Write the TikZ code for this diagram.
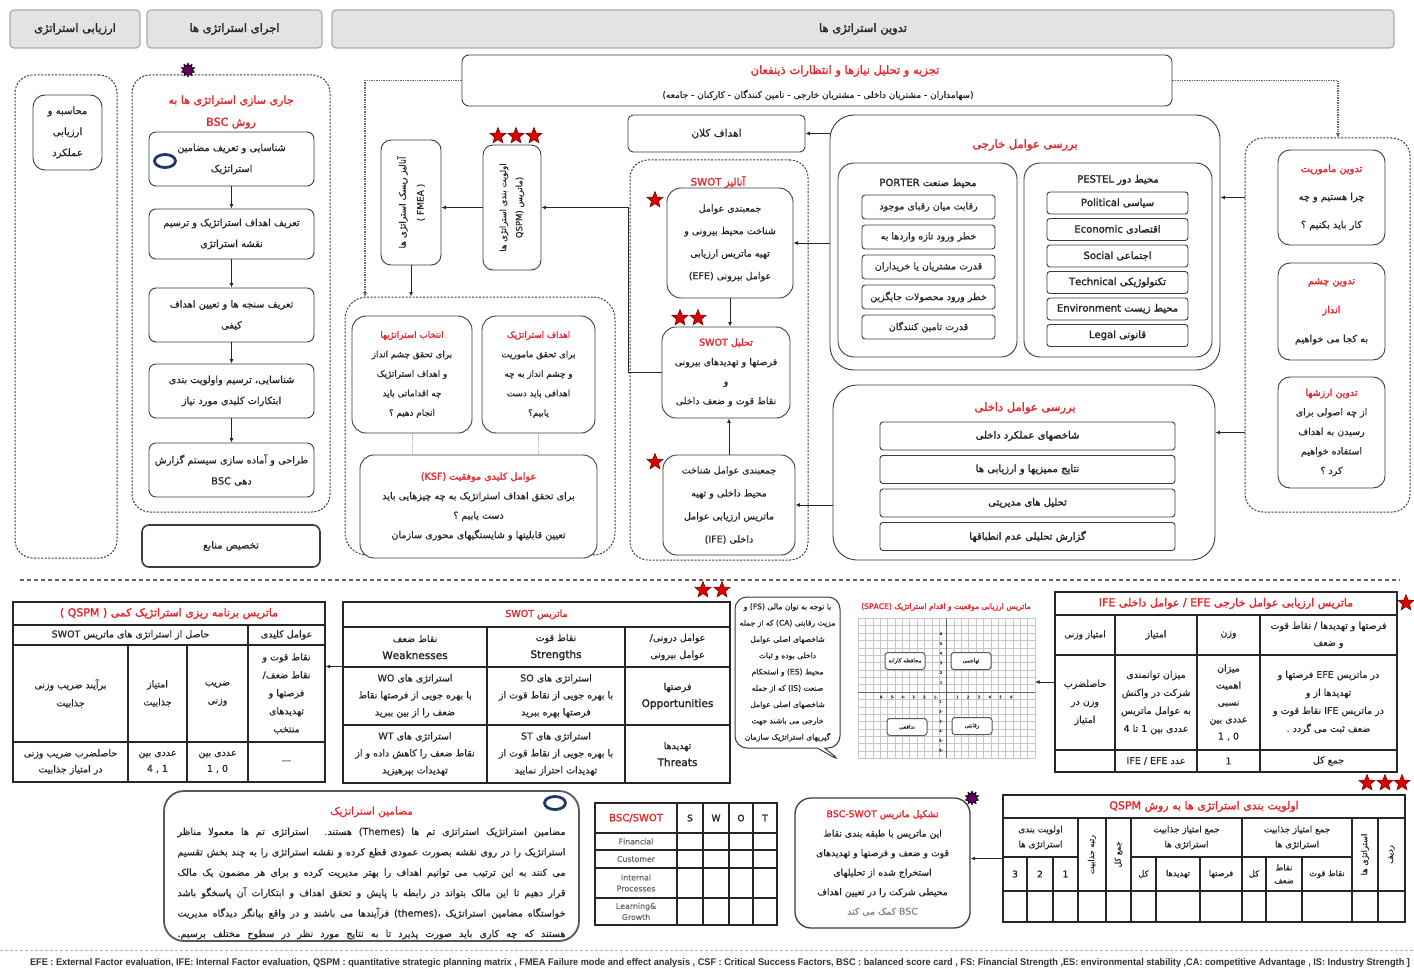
\documentclass[tikz,border=0pt]{standalone}
\usepackage{fontspec}
\usepackage{graphicx}
\usepackage{tikz}
\usetikzlibrary{arrows.meta,shapes.geometric,shapes.callouts}
\TeXXeTstate=1
\newfontfamily\fafont[Script=Arabic,FakeBold=0.5]{DejaVu Sans}
\newfontfamily\fabold[Script=Arabic,FakeBold=1.8]{DejaVu Sans}
\newfontfamily\footfont{Liberation Sans}
\definecolor{tred}{RGB}{232,38,44}
\definecolor{bline}{RGB}{60,60,60}
\definecolor{navy}{RGB}{31,56,100}
\newcommand{\fa}[1]{\beginR #1\endR}
\newcommand{\fb}[1]{{\fabold\beginR #1\endR}}
\newcommand{\fr}[1]{{\color{tred}\fabold\beginR #1\endR}}
\newcommand{\ltr}[1]{\beginL #1\endL}
\newcommand{\lw}[1]{{\fabold\fontsize{10.5}{17}\selectfont #1}}
\newcommand{\jl}[1]{\hbox to 388pt{\beginR #1\endR}}

\tikzset{
  every node/.style={font=\fafont\fontsize{10}{14}\selectfont, text=black!85, align=center, inner sep=1pt},
  fs/.style n args={2}{font=\fafont\fontsize{#1}{#2}\selectfont},
  hdbox/.style={draw=gray!65, fill=gray!22, line width=1.2pt, rounded corners=4pt},
  rbox/.style={draw=bline, fill=white, line width=0.9pt, rounded corners=7pt},
  grpbox/.style={draw=bline, dash pattern=on 2pt off 1.5pt, line width=1pt, rounded corners=18pt},
  itembox/.style={draw=bline, fill=white, line width=0.9pt, rounded corners=3pt},
  tbl/.style={draw=black!85, line width=1.3pt},
  arr/.style={draw=black!85, line width=1pt, -{Latex[length=4.5pt,width=4pt]}},
  dotarr/.style={draw=black!60, line width=1.4pt, densely dotted, -{Latex[length=5pt,width=4.5pt]}},
  dotln/.style={draw=gray!70, line width=1pt, densely dotted},
  sepln/.style={draw=black!60, line width=1.3pt, dash pattern=on 4pt off 3pt},
  footln/.style={draw=gray!60, line width=0.8pt, dash pattern=on 3pt off 2pt},
  gridln/.style={draw=gray!45, line width=0.4pt},
  redstar/.style={star, star points=5, star point ratio=2.3, fill=red!85!black, draw=red!40!black, line width=0.5pt, minimum size=17pt, inner sep=0pt},
  burst/.style={star, star points=10, star point ratio=1.6, fill=violet!75!black, draw=black, line width=0.6pt, minimum size=14pt, inner sep=0pt},
  ring/.style={ellipse, draw=navy, line width=2.8pt, minimum width=21pt, minimum height=13pt, inner sep=0pt},
  quadbox/.style={draw=gray!70!black, line width=1pt, rounded corners=3pt, fill=white, minimum width=40pt, minimum height=17pt, fs={5.5}{7}},
}

\begin{document}
\begin{tikzpicture}[x=1pt,y=-1pt]
\fill[white] (0,0) rectangle (1414,971);
\useasboundingbox (0,0) rectangle (1414,971);

% header bar
\node[hdbox, minimum width=130pt, minimum height=38pt, fs={11.5}{13}] (hdEval) at (75,29) {\fb{ارزیابی استراتژی}};
\node[hdbox, minimum width=175pt, minimum height=38pt, fs={11.5}{13}] (hdImpl) at (234.5,29) {\fb{اجرای استراتژی ها}};
\node[hdbox, minimum width=1062pt, minimum height=38pt, fs={11.5}{13}] (hdForm) at (863,29) {\fb{تدوین استراتژی ها}};

% evaluation
\node[grpbox, minimum width=102pt, minimum height=483pt] (evalGrp) at (66,316.5) {};
\node[rbox, rounded corners=12pt, minimum width=69pt, minimum height=75pt, fs={10}{21}] (evalBox) at (67.5,132.5) {\fa{محاسبه و}\\\fa{ارزیابی}\\\fa{عملکرد}};

% implementation (BSC)
\node[grpbox, minimum width=198pt, minimum height=437pt] (bscGrp) at (231,293.5) {};
\node[burst] (bscBurst) at (188,70) {};
\node[fs={11}{22}] (bscTtl) at (231,112) {\fr{جاری سازی استراتژی ها به}\\\fr{روش BSC}};
\node[rbox, minimum width=165pt, minimum height=54pt, fs={9.8}{21}] (bsc1) at (231.5,159) {\fa{شناسایی و تعریف مضامین}\\\fa{استراتژیک}};
\node[rbox, minimum width=165pt, minimum height=50pt, fs={9.8}{21}] (bsc2) at (231.5,234) {\fa{تعریف اهداف استراتژیک و ترسیم}\\\fa{نقشه استراتژی}};
\node[rbox, minimum width=165pt, minimum height=54pt, fs={9.8}{21}] (bsc3) at (231.5,315) {\fa{تعریف سنجه ها و تعیین اهداف}\\\fa{کیفی}};
\node[rbox, minimum width=165pt, minimum height=54pt, fs={9.8}{21}] (bsc4) at (231.5,391) {\fa{شناسایی، ترسیم واولویت بندی}\\\fa{ابتکارات کلیدی مورد نیاز}};
\node[rbox, minimum width=165pt, minimum height=54pt, fs={9.8}{21}] (bsc5) at (231.5,470) {\fa{طراحی و آماده سازی سیستم گزارش}\\\fa{دهی BSC}};
\node[ring] (bscRing) at (165,161) {};
\foreach \a/\b in {bsc1/bsc2,bsc2/bsc3,bsc3/bsc4,bsc4/bsc5}
  \draw[arr] (\a) -- (\b);
\node[rbox, line width=1.6pt, minimum width=178pt, minimum height=42pt] (resBox) at (231,546) {\fa{تخصیص منابع}};

% stakeholders
\node[rbox, minimum width=710pt, minimum height=51pt] (needsBox) at (817,80.5) {};
\node[fs={11.5}{13}] (needsTtl) at (845,71) {\fr{تجزیه و تحلیل نیازها و انتظارات ذینفعان}};
\node[fs={9}{10}] (needsSub) at (818,95) {\fa{(سهامداران - مشتریان داخلی - مشتریان خارجی - تامین کنندگان - کارکنان - جامعه)}};

\node[rbox, rounded corners=5pt, minimum width=177pt, minimum height=37pt, fs={10.5}{12}] (goalsBox) at (716.5,133.5) {\fa{اهداف کلان}};

% external factors
\node[rbox, rounded corners=24pt, minimum width=390pt, minimum height=255pt] (extBox) at (1025,242.5) {};
\node[fs={11.5}{13}] (extTtl) at (1025,145) {\fr{بررسی عوامل خارجی}};
\node[rbox, rounded corners=16pt, minimum width=179pt, minimum height=194pt] (porterGrp) at (927.5,260) {};
\node[fs={10}{11}] (porterTtl) at (928,183) {\fb{محیط صنعت PORTER}};
\foreach \i/\t in {1/رقابت میان رقبای موجود,2/خطر ورود تازه واردها به,3/قدرت مشتریان یا خریداران,4/خطر ورود محصولات جایگزین,5/قدرت تامین کنندگان}
  \node[itembox, minimum width=133pt, minimum height=24pt, fs={9.5}{11}] (port\i) at (928.5,{177+30*\i}) {\fa{\t}};
\node[rbox, rounded corners=16pt, minimum width=188pt, minimum height=194pt] (pestelGrp) at (1118,260) {};
\node[fs={10}{11}] (pestelTtl) at (1118,180) {\fb{محیط دور PESTEL}};
\foreach \i/\t in {1/سیاسی Political,2/اقتصادی Economic,3/اجتماعی Social,4/تکنولوژیکی Technical,5/محیط زیست Environment,6/قانونی Legal}
  \node[itembox, minimum width=141pt, minimum height=22pt, fs={10}{11}] (pest\i) at (1117.5,{176.5+26.5*\i}) {\fb{\t}};

% mission, vision, values
\node[grpbox, minimum width=165pt, minimum height=374pt] (misGrp) at (1327.5,325) {};
\node[rbox, rounded corners=12pt, minimum width=107pt, minimum height=95pt, fs={9.8}{28}] (misBox) at (1331.5,197.5) {\fr{تدوین ماموریت}\\\fa{چرا هستیم و چه}\\\fa{کار باید بکنیم ؟}};
\node[rbox, rounded corners=12pt, minimum width=107pt, minimum height=97pt, fs={9.8}{29}] (visBox) at (1331.5,311.5) {\fr{تدوین چشم}\\\fr{انداز}\\\fa{به کجا می خواهیم}};
\node[rbox, rounded corners=12pt, minimum width=107pt, minimum height=111pt, fs={9.5}{19.5}] (valBox) at (1331.5,432.5) {\fr{تدوین ارزشها}\\\fa{از چه اصولی برای}\\\fa{رسیدن به اهداف}\\\fa{استفاده خواهیم}\\\fa{کرد ؟}};

% internal factors
\node[rbox, rounded corners=24pt, minimum width=382pt, minimum height=175pt] (intBox) at (1024,472.5) {};
\node[fs={11.5}{13}] (intTtl) at (1025,408) {\fr{بررسی عوامل داخلی}};
\foreach \i/\t in {1/شاخصهای عملکرد داخلی,2/نتایج ممیزیها و ارزیابی ها,3/تحلیل های مدیریتی,4/گزارش تحلیلی عدم انطباقها}
  \node[itembox, minimum width=295pt, minimum height=28pt, fs={10}{11}] (int\i) at (1027.5,{402.5+33.5*\i}) {\fb{\t}};

% SWOT analysis
\node[grpbox, minimum width=178pt, minimum height=400pt] (swotGrp) at (719,360) {};
\node[fs={10.2}{12}] (swotTtl) at (718,182) {\fr{آنالیز SWOT}};
\node[rbox, rounded corners=14pt, minimum width=126pt, minimum height=110pt, fs={9.5}{22.5}] (sw1) at (730,243) {\fa{جمعبندی عوامل}\\\fa{شناخت محیط بیرونی و}\\\fa{تهیه ماتریس ارزیابی}\\\fa{عوامل بیرونی (EFE)}};
\node[rbox, rounded corners=14pt, minimum width=128pt, minimum height=91pt, fs={9.5}{19.5}] (sw2) at (726,372.5) {\fr{تحلیل SWOT}\\\fa{فرصتها و تهدیدهای بیرونی}\\\fa{و}\\\fa{نقاط قوت و ضعف داخلی}};
\node[rbox, rounded corners=14pt, minimum width=132pt, minimum height=100pt, fs={9.5}{23}] (sw3) at (729,505) {\fa{جمعبندی عوامل شناخت}\\\fa{محیط داخلی و تهیه}\\\fa{ماتریس ارزیابی عوامل}\\\fa{داخلی (IFE)}};
\node[redstar] (swStarA) at (655,200) {};
\node[redstar] (swStarB) at (680,318) {};
\node[redstar] (swStarC) at (698,318) {};
\node[redstar] (swStarD) at (655,462) {};

% priorities and risk
\node[rbox, rounded corners=10pt, minimum width=58pt, minimum height=125pt] (qspmV) at (512,207.5) {};
\node[rotate=90, fs={8.5}{16}] (qspmVtxt) at (qspmV.center) {\fa{اولویت بندی استراتژی ها}\\\fa{(ماتریس QSPM)}};
\node[rbox, rounded corners=10pt, minimum width=60pt, minimum height=125pt] (fmeaBox) at (411,202.5) {};
\node[rotate=90, fs={9}{18}] (fmeaTxt) at (fmeaBox.center) {\fa{آنالیز ریسک استراتژی ها}\\\fa{( FMEA )}};
\foreach \s/\x in {a/498,b/516,c/534}
  \node[redstar] (qStar\s) at (\x,136) {};

% objectives
\node[grpbox, rounded corners=22pt, minimum width=270pt, minimum height=258pt] (objGrp) at (480,426) {};
\node[rbox, rounded corners=14pt, minimum width=120pt, minimum height=117pt, fs={8.8}{19.5}] (selBox) at (412,374.5) {\fr{انتخاب استراتژیها}\\\fa{برای تحقق چشم انداز}\\\fa{و اهداف استراتژیک}\\\fa{چه اقداماتی باید}\\\fa{انجام دهیم ؟}};
\node[rbox, rounded corners=14pt, minimum width=113pt, minimum height=117pt, fs={8.8}{19.5}] (goalBox) at (538.5,374.5) {\fr{اهداف استراتژیک}\\\fa{برای تحقق ماموریت}\\\fa{و چشم انداز به چه}\\\fa{اهدافی باید دست}\\\fa{یابیم؟}};
\node[rbox, rounded corners=14pt, minimum width=237pt, minimum height=103pt, fs={9.6}{19.5}] (ksfBox) at (478.5,506.5) {\fr{عوامل کلیدی موفقیت (KSF)}\\\fa{برای تحقق اهداف استراتژیک به چه چیزهایی باید}\\\fa{دست یابیم ؟}\\\fa{تعیین قابلیتها و شایستگیهای محوری سازمان}};

% connectors, upper part
\coordinate (objTop) at (365,297);
\coordinate (misTop) at (1338,138);
\coordinate (swBend) at (628,372.5);
\draw[dotarr] (needsBox.west) -| (objTop);
\draw[dotarr] (needsBox.east) -| (misTop);
\draw[arr] (misGrp.west |- misBox.west) -- (extBox.east |- misBox.west);
\draw[arr] (misGrp.west |- valBox.west) -- (intBox.east |- valBox.west);
\draw[arr] (extBox.west |- goalsBox.east) -- (goalsBox.east);
\draw[arr] (extBox.west |- sw1.east) -- (sw1.east);
\draw[arr] (intBox.west |- sw3.east) -- (sw3.east);
\draw[arr] (sw1.south) -- (sw1.south |- sw2.north);
\draw[arr] (sw3.north) -- (sw3.north |- sw2.south);
\draw[arr] (sw2.west) -- (swBend) |- (qspmV.east);
\draw[arr] (qspmV.west) -- (qspmV.west -| fmeaBox.east);
\draw[arr] (fmeaBox.south) -- (fmeaBox.south |- objGrp.north);
\draw[dotln] (selBox.south) -- (selBox.south |- ksfBox.north);
\draw[dotln] (goalBox.south) -- (goalBox.south |- ksfBox.north);

\draw[sepln] (20,580) -- (1400,580);

% QSPM quantitative matrix
\node[tbl, minimum width=312pt, minimum height=180pt] (qtTab) at (169,692) {};
\draw[tbl] (13,625) -- (325,625) (13,645) -- (325,645) (13,742) -- (325,742)
  (248,625) -- (248,782) (187,645) -- (187,782) (128,645) -- (128,782);
\node[fs={11}{12}] (qtTtl) at (169,613.5) {\fr{ماتریس برنامه ریزی استراتژیک کمی ( QSPM )}};
\node[fs={9.5}{11}] (qtHeadA) at (130.5,635) {\fa{حاصل از استراتژی های ماتریس SWOT}};
\node[fs={9.5}{11}] (qtHeadB) at (286.5,635) {\fa{عوامل کلیدی}};
\node[fs={9.5}{18}] (qtFac) at (286.5,693.5) {\fa{نقاط قوت و}\\\fa{نقاط ضعف/}\\\fa{فرصتها و}\\\fa{تهدیدهای}\\\fa{منتخب}};
\node[fs={9.5}{18}] (qtW) at (217.5,693.5) {\fa{ضریب}\\\fa{وزنی}};
\node[fs={9.5}{18}] (qtA) at (157.5,693.5) {\fa{امتیاز}\\\fa{جذابیت}};
\node[fs={9.5}{18}] (qtR) at (70.5,693.5) {\fa{برآیند ضریب وزنی}\\\fa{جذابیت}};
\node[fs={9.5}{11}] (qtFac2) at (286.5,762) {—};
\node[fs={9.5}{16}] (qtW2) at (217.5,762) {\fa{عددی بین}\\\ltr{1 , 0}};
\node[fs={9.5}{16}] (qtA2) at (157.5,762) {\fa{عددی بین}\\\ltr{4 , 1}};
\node[fs={9.5}{16}] (qtR2) at (70.5,762) {\fa{حاصلضرب ضریب وزنی}\\\fa{در امتیاز جذابیت}};

% SWOT matrix
\node[tbl, minimum width=387pt, minimum height=181pt] (swotMat) at (536.5,692.5) {};
\draw[tbl] (343,627) -- (730,627) (343,667) -- (730,667) (343,725) -- (730,725)
  (487,627) -- (487,783) (625,627) -- (625,783);
\node[fs={9.5}{11}] (smTtl) at (536.5,614.5) {\fr{ماتریس SWOT}};
\node[fs={9.5}{17}] (smHdA) at (677.5,647) {\fa{عوامل درونی/}\\\fa{عوامل بیرونی}};
\node[fs={9.5}{17}] (smHdS) at (556,647) {\fa{نقاط قوت}\\\lw{Strengths}};
\node[fs={9.5}{17}] (smHdW) at (415,647) {\fa{نقاط ضعف}\\\lw{Weaknesses}};
\node[fs={9.5}{17}] (smO) at (677.5,696) {\fa{فرصتها}\\\lw{Opportunities}};
\node[fs={9.5}{17}] (smSO) at (556,696) {\fa{استراتژی های SO}\\\fa{با بهره جویی از نقاط قوت از}\\\fa{فرصتها بهره ببرید}};
\node[fs={9.5}{17}] (smWO) at (415,696) {\fa{استراتژی های WO}\\\fa{با بهره جویی از فرصتها نقاط}\\\fa{ضعف را از بین ببرید}};
\node[fs={9.5}{17}] (smT) at (677.5,754) {\fa{تهدیدها}\\\lw{Threats}};
\node[fs={9.5}{17}] (smST) at (556,754) {\fa{استراتژی های ST}\\\fa{با بهره جویی از نقاط قوت از}\\\fa{تهدیدات احتراز نمایید}};
\node[fs={9.5}{17}] (smWT) at (415,754) {\fa{استراتژی های WT}\\\fa{نقاط ضعف را کاهش داده و از}\\\fa{تهدیدات بپرهیزید}};
\node[redstar] (smStarA) at (703,590) {};
\node[redstar] (smStarB) at (722,590) {};

% SPACE note and chart
\node[rectangle callout, draw=bline, line width=1pt, fill=white, rounded corners=12pt, callout absolute pointer={(842,762)}, minimum width=105pt, minimum height=151pt, fs={7.6}{16.3}] (spaceNote) at (787.5,672.5) {\fa{با توجه به توان مالی (FS) و}\\\fa{مزیت رقابتی (CA) که از جمله}\\\fa{شاخصهای اصلی عوامل}\\\fa{داخلی بوده و ثبات}\\\fa{محیط (ES) و استحکام}\\\fa{صنعت (IS) که از جمله}\\\fa{شاخصهای اصلی عوامل}\\\fa{خارجی می باشند جهت}\\\fa{گیریهای استراتژیک سازمان}};
\node[fs={7.6}{9}] (spaceTtl) at (946,607) {\fr{ماتریس ارزیابی موقعیت و اقدام استراتژیک (SPACE)}};
\node[minimum width=177pt, minimum height=140pt, inner sep=0pt] (spaceGrid) at (946.5,688.3) {};
\foreach \k in {-12,...,12}
  \draw[gridln] ({946.5+7.375*\k},618.25) -- ({946.5+7.375*\k},758.4);
\foreach \k in {-10,...,9}
  \draw[gridln] (858,{692+7.375*\k}) -- (1035,{692+7.375*\k});
\draw[black!60, line width=0.8pt] (858,692) -- (1035,692) (946.5,618.25) -- (946.5,758.4);
\foreach \k in {1,...,6}{
  \node[fs={3.5}{4}] (tkxp\k) at ({946.5+10.8*\k},697) {\k};
  \node[fs={3.5}{4}] (tkxn\k) at ({946.5-10.8*\k},697) {-\k};
  \node[fs={3.5}{4}] (tkyp\k) at (941,{692-9.7*\k}) {\k};
  \node[fs={3.5}{4}] (tkyn\k) at (941,{692+9.7*\k}) {-\k};
}
\node[quadbox] (qdCons) at (905,661) {\fa{محافظه کارانه}};
\node[quadbox] (qdAggr) at (971,661) {\fa{تهاجمی}};
\node[quadbox] (qdDef) at (907,727) {\fa{تدافعی}};
\node[quadbox] (qdComp) at (972,726) {\fa{رقابتی}};

% EFE / IFE matrix
\node[tbl, minimum width=342pt, minimum height=180pt] (ifeTab) at (1226,682) {};
\draw[tbl] (1055,615) -- (1397,615) (1055,655) -- (1397,655) (1055,750) -- (1397,750)
  (1115,615) -- (1115,772) (1197,615) -- (1197,772) (1260,615) -- (1260,772);
\node[fs={11}{12}] (ieTtl) at (1226,603.5) {\fr{ماتریس ارزیابی عوامل خارجی EFE / عوامل داخلی IFE}};
\node[fs={9.5}{17}] (ieHdA) at (1328.5,635) {\fa{فرصتها و تهدیدها / نقاط قوت}\\\fa{و ضعف}};
\node[fs={9.5}{11}] (ieHdB) at (1228.5,635) {\fa{وزن}};
\node[fs={9.5}{11}] (ieHdC) at (1156,635) {\fa{امتیاز}};
\node[fs={9}{11}] (ieHdD) at (1085,635) {\fa{امتیاز وزنی}};
\node[fs={9.5}{18}] (ieBdA) at (1328.5,702.5) {\fa{در ماتریس EFE فرصتها و}\\\fa{تهدیدها از و}\\\fa{در ماتریس IFE نقاط قوت و}\\\fa{ضعف ثبت می گردد .}};
\node[fs={9.5}{17}] (ieBdB) at (1228.5,702.5) {\fa{میزان}\\\fa{اهمیت}\\\fa{نسبی}\\\fa{عددی بین}\\\ltr{1 , 0}};
\node[fs={9.5}{18}] (ieBdC) at (1156,702.5) {\fa{میزان توانمندی}\\\fa{شرکت در واکنش}\\\fa{به عوامل ماتریس}\\\fa{عددی بین 1 تا 4}};
\node[fs={9.5}{18}] (ieBdD) at (1085,702.5) {\fa{حاصلضرب}\\\fa{وزن در}\\\fa{امتیاز}};
\node[fs={9.5}{11}] (ieFtA) at (1328.5,761) {\fa{جمع کل}};
\node[fs={9.5}{11}] (ieFtB) at (1228.5,761) {1};
\node[fs={9.5}{11}] (ieFtC) at (1156,761) {\fa{عدد \ltr{IFE / EFE}}};
\node[redstar] (ieStar) at (1406,603) {};

% strategic themes
\node[rbox, rounded corners=20pt, line width=1.8pt, draw=gray!70!black, minimum width=415pt, minimum height=150pt] (themeBox) at (371.5,866) {};
\node[fs={10.5}{12}] (themeTtl) at (371.5,812) {\textcolor{tred}{\fa{مضامین استراتژیک}}};
\node[fs={9.6}{20.4}] (themeTxt) at (371.5,883.5) {\vbox{%
\jl{مضامین استراتژیک استراتژی تم ها (Themes) هستند. استراتژی تم ها معمولا مناظر}
\jl{استراتژیک را در روی نقشه بصورت عمودی قطع کرده و نقشه استراتژی را به چند بخش تقسیم}
\jl{می کنند به این ترتیب می توانیم اهداف را بهتر مدیریت کرده و برای هر مضمون یک مالک}
\jl{قرار دهیم تا این مالک بتواند در رابطه با پایش و تحقق اهداف و ابتکارات آن پاسخگو باشد}
\jl{خواستگاه مضامین استراتژیک (themes)، فرآیندها می باشند و در واقع بیانگر دیدگاه مدیریت}
\jl{هستند که چه کاری باید صورت پذیرد تا به نتایج مورد نظر در سطوح مختلف برسیم.}}};
\node[ring] (themeRing) at (555,803) {};

% BSC / SWOT grid
\node[tbl, line width=1.1pt, minimum width=182pt, minimum height=122pt] (bsTab) at (686,864) {};
\draw[tbl, line width=1.1pt] (595,833) -- (777,833) (595,850) -- (777,850) (595,868) -- (777,868) (595,898) -- (777,898)
  (677,803) -- (677,925) (703,803) -- (703,925) (729,803) -- (729,925) (753,803) -- (753,925);
\node[fs={10}{11}] (bsHd) at (636,818) {{\color{tred}\fabold BSC/SWOT}};
\foreach \l/\x in {S/690,W/716,O/741,T/765}
  \node[fs={9}{10}] (bs\l) at (\x,818) {\fabold \l};
\node[fs={7.8}{9}, text=black!60] (bsFin) at (636,841.5) {Financial};
\node[fs={7.8}{9}, text=black!60] (bsCus) at (636,859) {Customer};
\node[fs={7.8}{11}, text=black!60] (bsInt) at (636,883) {Internal\\Processes};
\node[fs={7.8}{11}, text=black!60] (bsLrn) at (636,911.5) {Learning\&\\Growth};

% BSC-SWOT note
\node[rbox, rounded corners=16pt, line width=1.3pt, minimum width=175pt, minimum height=130pt, fs={9.3}{19.5}] (bscSwot) at (882.5,863) {\fr{تشکیل ماتریس BSC-SWOT}\\\fa{این ماتریس با طبقه بندی نقاط}\\\fa{قوت و ضعف و فرصتها و تهدیدهای}\\\fa{استخراج شده از تحلیلهای}\\\fa{محیطی شرکت را در تعیین اهداف}\\{\color{gray}\fa{BSC کمک می کند}}};
\node[burst] (bsBurst) at (972,798) {};

% QSPM priority table
\node[tbl, minimum width=402pt, minimum height=127pt] (qpTab) at (1204,858.5) {};
\draw[tbl] (1003,818) -- (1405,818) (1003,891) -- (1405,891) (1003,857) -- (1078,857) (1131,857) -- (1352,857);
\foreach \x in {1078,1106,1131,1242,1352,1378}
  \draw[tbl] (\x,818) -- (\x,922);
\foreach \x in {1027,1053,1156,1200,1266,1302}
  \draw[tbl] (\x,857) -- (\x,922);
\node[fs={11}{12}] (qpTtl) at (1204,806.5) {\fr{اولویت بندی استراتژی ها به روش QSPM}};
\node[fs={8.8}{15}] (qpPri) at (1040.5,837.5) {\fa{اولویت بندی}\\\fa{استراتژی ها}};
\foreach \n/\x in {3/1015,2/1040,1/1065.5}
  \node[fs={9}{10}] (qpN\n) at (\x,874) {\fabold \n};
\node[rotate=90, fs={8}{9}] (qpRank) at (1092,854.5) {\fa{رتبه جذابیت}};
\node[rotate=90, fs={8}{9}] (qpSum) at (1118.5,854.5) {\fa{جمع کل}};
\node[fs={8.8}{15}] (qpGrpB) at (1186.5,837.5) {\fa{جمع امتیاز جذابیت}\\\fa{استراتژی ها}};
\node[fs={8.8}{15}] (qpGrpA) at (1297,837.5) {\fa{جمع امتیاز جذابیت}\\\fa{استراتژی ها}};
\node[fs={8.3}{10}] (qpTot2) at (1143.5,874) {\fa{کل}};
\node[fs={8.3}{10}] (qpThr) at (1178,874) {\fa{تهدیدها}};
\node[fs={8.3}{10}] (qpOpp) at (1221,874) {\fa{فرصتها}};
\node[fs={8.3}{10}] (qpTot1) at (1254,874) {\fa{کل}};
\node[fs={8.3}{13}] (qpWk) at (1284,874) {\fa{نقاط}\\\fa{ضعف}};
\node[fs={8.3}{10}] (qpSt) at (1327,874) {\fa{نقاط قوت}};
\node[rotate=90, fs={8.3}{9}] (qpStr) at (1365,854.5) {\fa{استراتژی ها}};
\node[rotate=90, fs={8.3}{9}] (qpRow) at (1391.5,854.5) {\fa{ردیف}};
\foreach \s/\x in {a/1367,b/1385,c/1402}
  \node[redstar] (qpStar\s) at (\x,783) {};

% connectors, lower part
\draw[arr] ([yshift=26pt]swotMat.west) -- ([yshift=26pt]swotMat.west -| qtTab.east);
\draw[arr] (ifeTab.west) -- (ifeTab.west -| spaceGrid.east);
\draw[arr] (qpTab.west) -- (qpTab.west -| bscSwot.east);

% abbreviations
\draw[footln] (0,950) -- (1414,950);
\node[text=black!80] (footNote) at (720,963) {\footfont\bfseries\resizebox{1380pt}{7pt}{EFE : External Factor evaluation, IFE: Internal Factor evaluation, QSPM : quantitative strategic planning matrix , FMEA Failure mode and effect analysis , CSF : Critical Success Factors, BSC : balanced score card , FS: Financial Strength ,ES: environmental stability ,CA: competitive Advantage , IS: Industry Strength ]}};
\end{tikzpicture}
\end{document}
